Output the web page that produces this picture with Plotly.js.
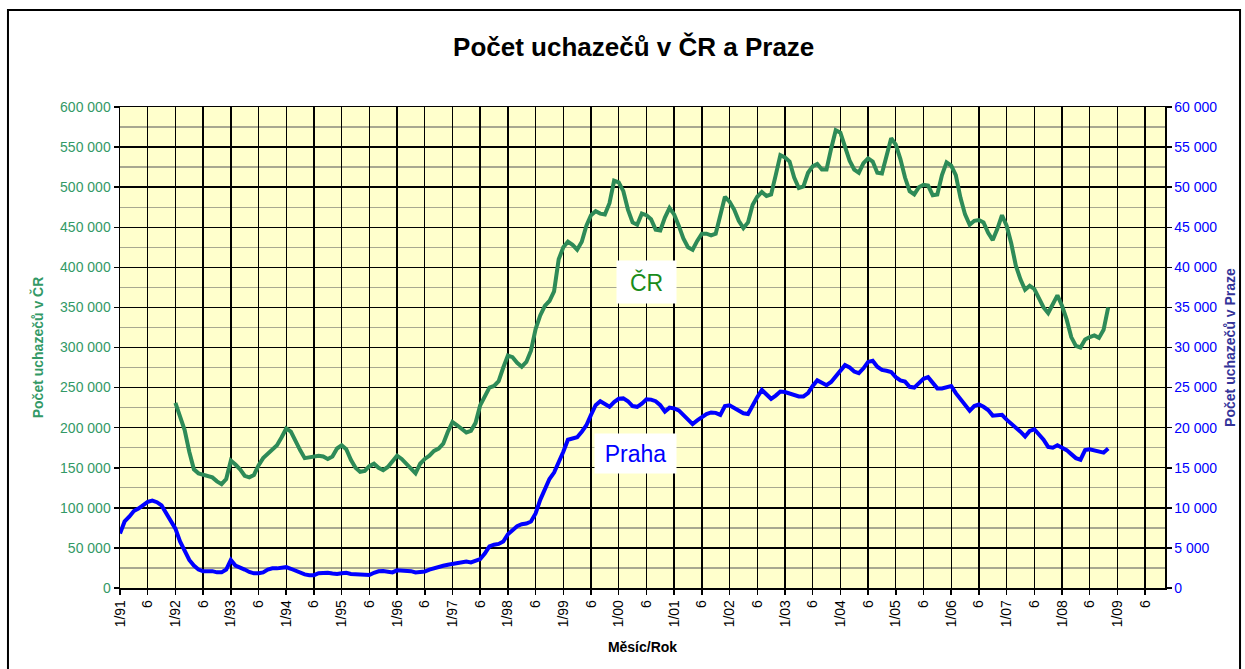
<!DOCTYPE html>
<html>
<head>
<meta charset="utf-8">
<script src="https://cdn.plot.ly/plotly-3.0.1.min.js"></script>
<style>html,body{margin:0;padding:0;background:#fff;}#chart{width:1245px;height:669px;}</style>
</head>
<body>
<div id="chart"></div>
<script>
// Month index 0 = 1/91
const tickLabels = ["1/91","6","1/92","6","1/93","6","1/94","6","1/95","6","1/96","6","1/97","6","1/98","6","1/99","6","1/00","6","1/01","6","1/02","6","1/03","6","1/04","6","1/05","6","1/06","6","1/07","6","1/08","6","1/09","6"];

// Praha (right axis), monthly from 1/91
const praha = [
6800,8300,8900,9600,9900,10300,10750,10900,10700,10300,9300,8300,
7400,5800,4500,3500,2800,2300,2100,2100,2100,1950,1950,2300,
3500,2800,2600,2300,2000,1830,1850,1950,2300,2450,2450,2500,
2600,2400,2150,1900,1700,1600,1600,1850,1900,1900,1800,1750,
1850,1900,1750,1700,1620,1600,1620,1900,2080,2120,2000,1950,
2200,2200,2150,2100,1950,1950,2050,2300,2500,2650,2780,2900,
3000,3150,3280,3300,3200,3350,3600,4300,5200,5400,5500,5800,
6700,7200,7700,7950,8050,8300,9300,11000,12400,13600,14400,15600,
17000,18500,18700,18800,19500,20300,21600,22800,23300,22900,22600,23200,
23600,23650,23300,22700,22600,23000,23550,23500,23300,22800,22000,22500,
22400,22150,21600,21000,20450,20900,21300,21700,21900,21850,21600,22700,
22800,22500,22200,21800,21700,22800,23800,24700,24200,23600,24000,24500,
24450,24300,24100,23900,23900,24300,25200,25900,25600,25300,25700,26400,
27200,27800,27500,27000,26800,27400,28200,28350,27600,27200,27100,26950,
26300,25900,25750,25100,25000,25600,26100,26300,25500,24900,24900,25100,
25200,24300,23500,22700,22100,22700,22900,22600,22200,21500,21500,21600,
21000,20500,20100,19500,18900,19600,19800,19100,18500,17600,17500,17800,
17500,17200,16700,16200,16000,17200,17300,17200,17000,16880,17400
];

// ČR (left axis), monthly from 1/92 (month index 12)
const crStart = 12;
const cr = [
231000,212000,197000,170000,148000,143000,141000,139500,138000,133000,129500,136000,
159000,154000,148000,140000,138000,141000,153000,162000,167000,172000,178000,188000,
199000,195000,182000,172000,162000,163000,165000,165000,164000,161000,164000,174000,
178000,173000,160000,150000,145000,146000,152000,155000,150000,147000,151000,158000,
165000,161000,155000,148000,143000,155000,161000,165000,171000,174000,180000,195000,
207000,203000,198000,194000,196000,206000,228000,240000,250000,252000,258000,275000,
290000,288000,281000,276000,282000,296000,323000,340000,352000,358000,370000,410000,
425000,432000,428000,422000,432000,452000,465000,470000,467000,466000,480000,508000,
506000,495000,472000,456000,453000,467000,465000,460000,447000,446000,462000,474000,
466000,452000,436000,425000,422000,433000,442000,442000,440000,442000,463000,488000,
482000,472000,458000,449000,456000,478000,488000,494000,489000,491000,515000,540000,
537000,532000,512000,499000,501000,518000,526000,529000,522000,522000,548000,571000,
568000,552000,533000,522000,518000,530000,536000,532000,518000,517000,540000,561000,
553000,535000,512000,495000,491000,500000,503000,502000,490000,491000,515000,531000,
527000,515000,487000,466000,453000,458000,459000,456000,443000,434000,448000,465000,
452000,430000,402000,385000,372000,377000,373000,362000,350000,343000,353000,365000,
352000,335000,313000,302000,300000,310000,313000,315000,312000,322000,350000
];

// Minor (grey) horizontal gridlines on the left axis
const minorGrid = [25000,75000,125000,175000,225000,275000,325000,375000,425000,475000,525000,575000];

const xPraha = praha.map((_, i) => i);
const xCr = cr.map((_, i) => i + crStart);
const tickVals = tickLabels.map((_, i) => i * 6);

const FONT = "Liberation Sans, Arial, sans-serif";
const GREEN_TXT = "#339966";
const GREEN_LINE = "#2E8B57";
const BLUE = "#0000FF";

const traces = [
  {x: xCr, y: cr, type: "scatter", mode: "lines", name: "ČR",
   line: {color: GREEN_LINE, width: 4}, yaxis: "y", hoverinfo: "skip"},
  {x: xPraha, y: praha, type: "scatter", mode: "lines", name: "Praha",
   line: {color: BLUE, width: 4}, yaxis: "y2", hoverinfo: "skip"}
];

const layout = {
  width: 1245, height: 669,
  margin: {l: 120, r: 80, t: 107, b: 81},
  paper_bgcolor: "#FFFFFF",
  plot_bgcolor: "#FFFFCC",
  separators: ", ",
  showlegend: false,
  font: {family: FONT, size: 14, color: "#000"},
  title: {text: "<b>Počet uchazečů v ČR a Praze</b>", font: {family: FONT, size: 26, color: "#000"},
          x: 0.509, xref: "container", xanchor: "center", y: 0.93, yref: "container", yanchor: "middle"},
  xaxis: {
    range: [0, 226.3], tickmode: "array", tickvals: tickVals, ticktext: tickLabels,
    tickangle: -90, ticks: "outside", ticklen: 5, tickcolor: "#000", tickwidth: 1.5,
    tickfont: {family: FONT, size: 14, color: "#000"},
    showgrid: true, gridcolor: "#000", gridwidth: 1.4,
    showline: true, linecolor: "#000", linewidth: 1.5, mirror: true,
    zeroline: false, automargin: false,
    title: {text: "<b>Měsíc/Rok</b>", font: {family: FONT, size: 14, color: "#000"}, standoff: 16}
  },
  yaxis: {
    range: [0, 600000], dtick: 50000, tickformat: ",d",
    ticks: "outside", ticklen: 5, tickcolor: "#000", tickwidth: 1.5,
    tickfont: {family: FONT, size: 14, color: GREEN_TXT},
    showgrid: true, gridcolor: "#000", gridwidth: 1.4,
    minor: {tickmode: "array", tickvals: minorGrid, showgrid: true, gridcolor: "#A8A890", gridwidth: 1.4, ticks: ""},
    showline: true, linecolor: "#000", linewidth: 1.5,
    zeroline: false, automargin: false,
    title: {text: "<b>Počet uchazečů v ČR</b>", font: {family: FONT, size: 14, color: GREEN_TXT}, standoff: 13}
  },
  yaxis2: {
    range: [0, 60000], dtick: 5000, tickformat: ",d", overlaying: "y", side: "right",
    ticks: "outside", ticklen: 5, tickcolor: "#000", tickwidth: 1.5,
    tickfont: {family: FONT, size: 14, color: BLUE},
    showgrid: false, showline: true, linecolor: "#000", linewidth: 1.5,
    zeroline: false, automargin: false,
    title: {text: "<b>Počet uchazečů v Praze</b>", font: {family: FONT, size: 14, color: "#333399"}, standoff: 9}
  },
  annotations: [
    {x: 114.1, y: 382000, xref: "x", yref: "y", text: "ČR", showarrow: false,
     font: {family: FONT, size: 23, color: "#1A8C1A"}, bgcolor: "#FFFFFF", width: 57, height: 40},
    {x: 111.7, y: 16800, xref: "x", yref: "y2", text: "Praha", showarrow: false,
     font: {family: FONT, size: 23, color: BLUE}, bgcolor: "#FFFFFF", width: 79, height: 37}
  ],
  shapes: [
    {type: "rect", xref: "paper", yref: "paper", x0: -0.1072, x1: 1.0718, y0: -0.2, y1: 1.2017,
     line: {color: "#000", width: 2}, fillcolor: "rgba(0,0,0,0)", layer: "above"}
  ]
};

Plotly.newPlot("chart", traces, layout, {staticPlot: true, displayModeBar: false});
</script>
</body>
</html>
